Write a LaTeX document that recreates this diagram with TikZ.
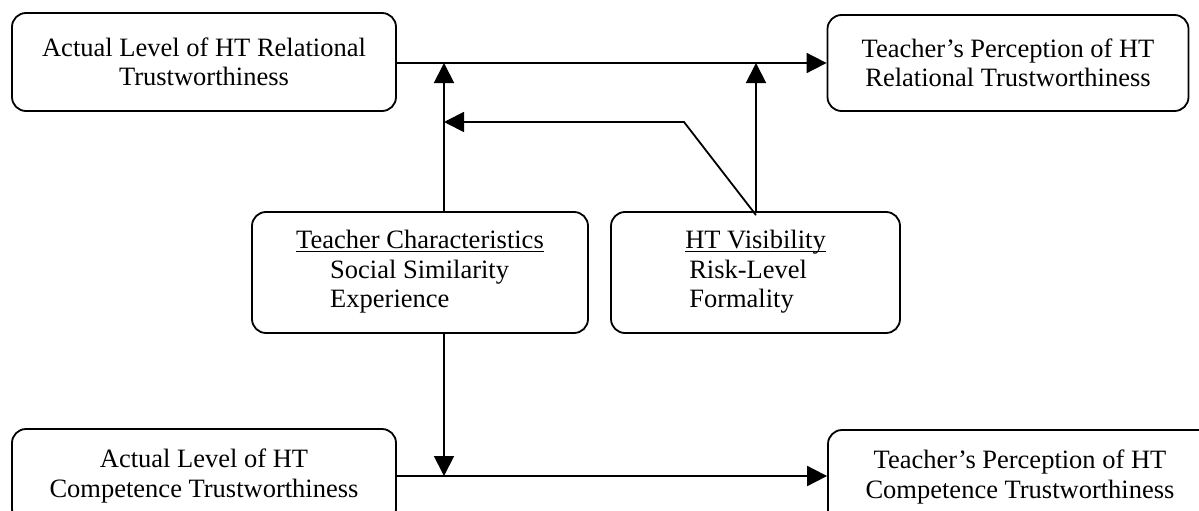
\documentclass[tikz,border=0pt]{standalone}
\usepackage{fontspec}
\setmainfont{Liberation Serif}
\usetikzlibrary{arrows.meta,calc}
\newcommand\myul[1]{\setbox0\hbox{#1}\rlap{\rule[-3pt]{\wd0}{1.4pt}}\box0}
\begin{document}
\begin{tikzpicture}[x=1pt,y=-1pt,
  box/.style={draw,line width=1.8pt,rounded corners=14pt,rectangle,inner sep=0pt,
    align=center,font=\fontsize{26.5}{29.5}\selectfont},
  arr/.style={line width=1.8pt,-{Triangle[length=20pt,width=20pt]}},
  ln/.style={line width=1.8pt}]
\useasboundingbox (0,0) rectangle (1199,511);
\fill[white] (0,0) rectangle (1199,511);
\clip (0,0) rectangle (1199,511);
\node[box,minimum width=384pt,minimum height=98pt] (A) at (204,62) {Actual Level of HT Relational\\Trustworthiness};
\node[box,minimum width=361pt,minimum height=96pt] (B) at (1008,63) {Teacher’s Perception of HT\\Relational Trustworthiness};
\node[box,minimum width=336pt,minimum height=121pt] (TC) at (420,272.5) {\begin{tabular}{@{}l@{}}\myul{Teacher Characteristics}\\\hspace*{34pt}Social Similarity\\\hspace*{34pt}Experience\end{tabular}};
\node[box,minimum width=289pt,minimum height=121pt] (HT) at (755.5,272.5) {\begin{tabular}{@{}l@{}}\myul{HT Visibility}\\\hspace*{4pt}Risk-Level\\\hspace*{4pt}Formality\end{tabular}};
\node[box,minimum width=384pt,minimum height=94pt] (C) at (204,476) {Actual Level of HT\\Competence Trustworthiness};
\node[box,minimum width=384pt,minimum height=94pt] (D) at (1020,477) {Teacher’s Perception of HT\\Competence Trustworthiness};
\coordinate (j1) at (444,63);
\coordinate (j2) at (756,63);
\coordinate (k) at (684,122);
\coordinate (j3) at (444,476);
\draw[arr] (A.east |- B.west) -- (B.west);
\draw[arr] (TC.north -| j1) -- (j1);
\draw[arr] (HT.north -| j2) -- (j2);
\draw[arr] ($(HT.north -| j2)+(0,4)$) -- (k) -- (k -| j1);
\draw[arr] (TC.south -| j3) -- (j3);
\draw[arr] (C.east |- j3) -- (D.west |- j3);
\end{tikzpicture}
\end{document}
